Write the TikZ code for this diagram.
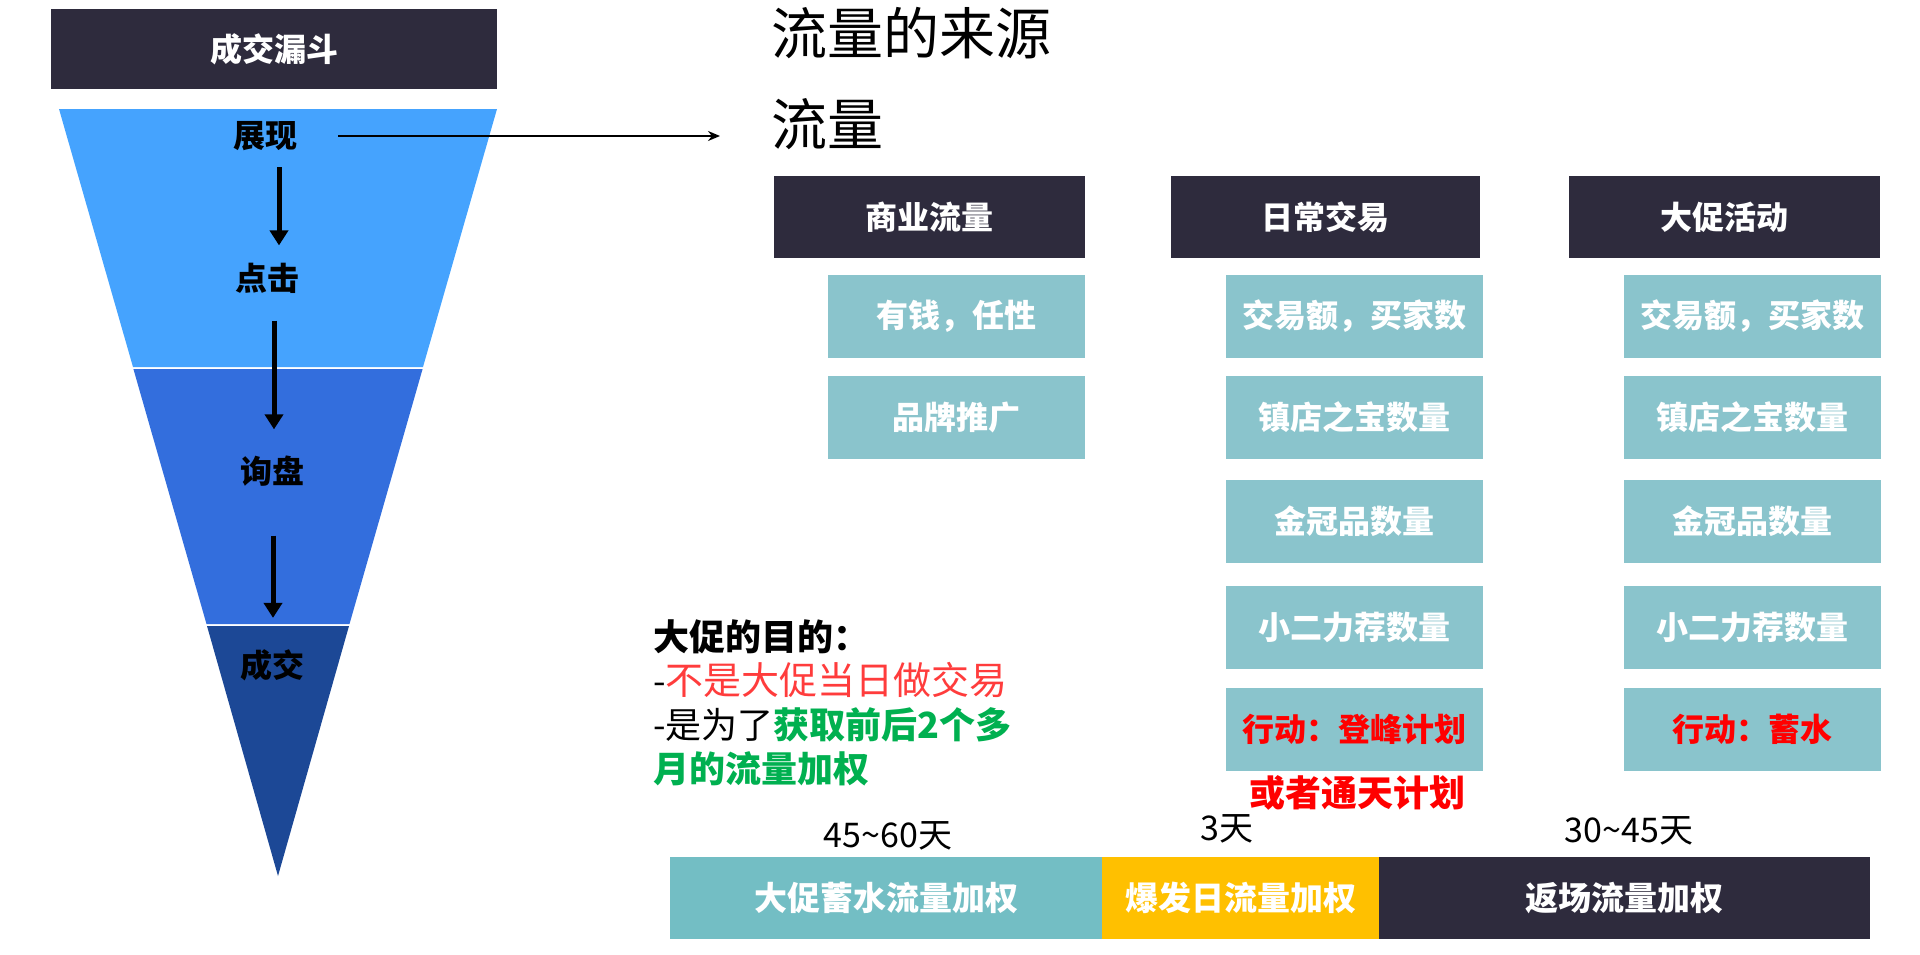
\documentclass[tikz,border=0pt]{standalone}
\usepackage{fontspec}
\setmainfont{Noto Sans CJK SC}
\usetikzlibrary{positioning, arrows.meta}
\definecolor{hdrdark}{RGB}{46,43,61}
\definecolor{funnela}{RGB}{69,163,254}
\definecolor{funnelb}{RGB}{51,110,221}
\definecolor{funnelc}{RGB}{28,72,150}
\definecolor{cellteal}{RGB}{138,196,204}
\definecolor{barteal}{RGB}{115,190,196}
\definecolor{baryellow}{RGB}{255,192,0}
\definecolor{alertred}{RGB}{255,0,0}
\definecolor{softred}{RGB}{255,60,60}
\definecolor{goalgreen}{RGB}{0,176,80}

\begin{document}
\begin{tikzpicture}[
    x=0.5pt, y=-0.5pt,
    hdr/.style={
      fill=hdrdark, text=white, inner sep=0pt, outer sep=0pt,
      font=\fontsize{16}{18}\selectfont\bfseries, minimum height=41pt
    },
    cell/.style={
      fill=cellteal, text=white, inner sep=0pt,
      font=\fontsize{16}{18}\selectfont\bfseries,
      minimum width=128.5pt, minimum height=41.5pt
    },
    stage/.style={font=\fontsize{16}{18}\selectfont\bfseries, inner sep=2pt},
    down/.style={-{Triangle[length=7.5pt, width=9pt]}, line width=2.5pt},
    flowarr/.style={-{Stealth[length=6pt, width=5pt]}, line width=0.8pt},
    bar/.style={
      text=white, inner sep=0pt, outer sep=0pt,
      font=\fontsize{16.5}{18}\selectfont\bfseries, minimum height=41pt
    },
    days/.style={font=\fontsize{17}{20}\selectfont, inner sep=0pt},
  ]
    \useasboundingbox (0,0) rectangle (1920,954);

    % funnel
    \node[hdr, minimum width=223pt, minimum height=40pt] (funnelhd) at (274,49) {成交漏斗};
    \fill[funnela] (59,109) -- (497,109) -- (423,367) -- (133,367) -- cycle;
    \fill[funnelb] (133.4,369) -- (422.6,369) -- (349.5,624) -- (206.5,624) -- cycle;
    \fill[funnelc] (207,626) -- (349,626) -- (278,876) -- cycle;

    \node[stage] (show) at (265,136) {展现};
    \node[stage] (click) at (267,278) {点击};
    \node[stage] (inquiry) at (272,471) {询盘};
    \node[stage] (deal) at (272,665) {成交};
    \draw[down, shorten <=6pt, shorten >=6.5pt] ([xshift=7pt]show.south) -- ([xshift=6pt]click.north);
    \draw[down, shorten <=11.5pt, shorten >=11pt] ([xshift=3.5pt]click.south) -- ([xshift=1pt]inquiry.north);
    \draw[down, shorten <=22.5pt, shorten >=13.5pt] ([xshift=0.5pt]inquiry.south) -- ([xshift=0.5pt]deal.north);

    \coordinate (flowin) at (720,136);
    \draw[flowarr] ([xshift=18.5pt]show.east) -- (flowin);

    % flow sources
    \node[anchor=west, inner sep=0pt, font=\fontsize{28}{32}\selectfont] (srctitle) at (771,33) {流量的来源};
    \node[anchor=west, inner sep=0pt, font=\fontsize{28}{32}\selectfont] (flowtitle) at (771,124) {流量};

    \node[hdr, minimum width=155.5pt] (biz) at (929.5,217) {商业流量};
    \node[hdr, minimum width=154.5pt] (daily) at (1325.5,217) {日常交易};
    \node[hdr, minimum width=155.5pt] (promo) at (1724.5,217) {大促活动};

    \node[cell] (bizrich) at (956.5,316) {有钱，任性};
    \node[cell] (bizbrand) at (956.5,417) {品牌推广};

    \node[cell] (dailygmv) at (1354.5,316) {交易额，买家数};
    \node[cell] (dailytop) at (1354.5,417) {镇店之宝数量};
    \node[cell] (dailycrown) at (1354.5,521) {金冠品数量};
    \node[cell] (dailypick) at (1354.5,627) {小二力荐数量};
    \node[cell, text=alertred] (dailyact) at (1354.5,729.5) {行动：登峰计划};

    \node[cell] (promogmv) at (1752.5,316) {交易额，买家数};
    \node[cell] (promotop) at (1752.5,417) {镇店之宝数量};
    \node[cell] (promocrown) at (1752.5,521) {金冠品数量};
    \node[cell] (promopick) at (1752.5,627) {小二力荐数量};
    \node[cell, text=alertred] (promoact) at (1752.5,729.5) {行动：蓄水};

    \node[text=alertred, inner sep=0pt, font=\fontsize{18}{20}\selectfont\bfseries] (dailyalt) at (1357,793) {或者通天计划};

    % promotion goal
    \node[anchor=north west, align=left, inner sep=0pt, font=\fontsize{18}{22}\selectfont] (goal) at (653,619) {%
      \textbf{大促的目的：}\\
      -\textcolor{softred}{\fontsize{19}{22}\selectfont 不是大促当日做交易}\\
      -是为了\textcolor{goalgreen}{\textbf{获取前后2个多}}\\
      \textcolor{goalgreen}{\textbf{月的流量加权}}
    };

    % timeline
    \node[bar, fill=barteal, minimum width=216pt] (prebar) at (886,898) {大促蓄水流量加权};
    \node[bar, fill=baryellow, minimum width=138.5pt, right=0pt of prebar] (burstbar) {爆发日流量加权};
    \node[bar, fill=hdrdark, minimum width=245.5pt, right=0pt of burstbar] (afterbar) {返场流量加权};

    \node[days] (predays) at (888,836) {45\textasciitilde60天};
    \node[days] (burstdays) at (1227,829) {3天};
    \node[days] (afterdays) at (1629,831) {30\textasciitilde45天};
  \end{tikzpicture}
\end{document}
